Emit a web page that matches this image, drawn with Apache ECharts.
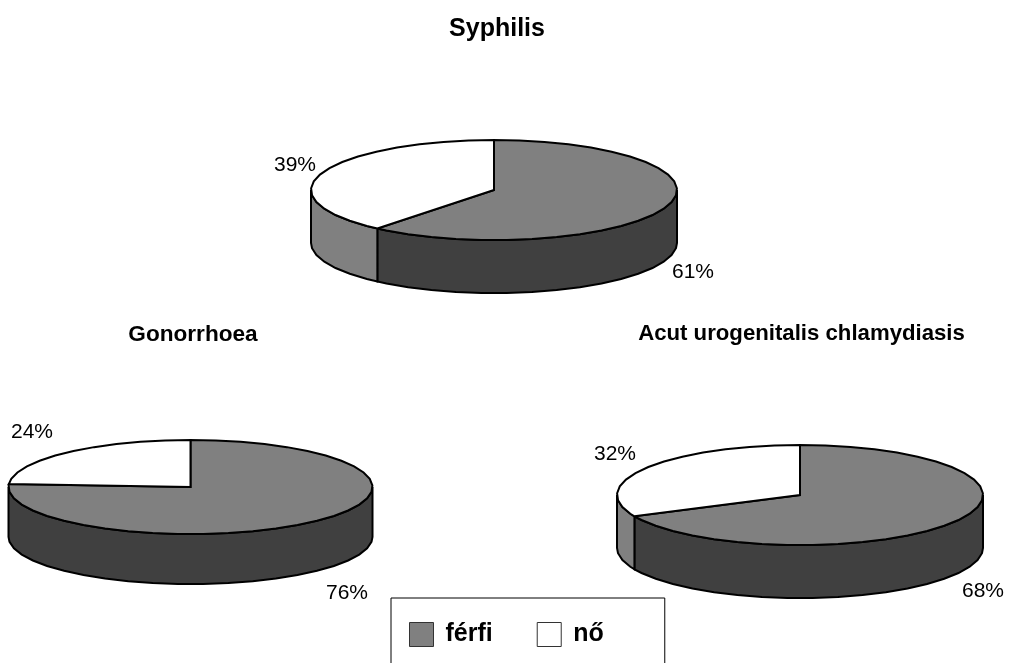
<!DOCTYPE html>
<html>
<head>
<meta charset="utf-8">
<style>
  html, body { margin: 0; padding: 0; background: #fff; }
  #chart { width: 1009px; height: 663px; }
</style>
<script src="https://cdn.jsdelivr.net/npm/echarts@6/dist/echarts.min.js"></script>
</head>
<body>
<div id="chart"></div>
<script>
// values, in percent
var pieNames = ["Syphilis", "Gonorrhoea", "Acut urogenitalis chlamydiasis"];
var ferfi = [61, 76, 68];
var no = [39, 24, 32];

// where each fake 3d pie sits on the page
var pieCx = [494, 190.5, 800];
var pieCy = [190, 487, 495];
var pieRx = [183, 182, 183];
var pieRy = [50, 47, 50];
var pieDepth = [53, 50, 53];
var titleX = [497, 193, 801.5];
var titleY = [17, 323, 323];
var titleSize = [25, 22.6, 22.2];
var ferfiLabelX = [693, 347, 983];
var ferfiLabelY = [272, 593, 591];
var noLabelX = [295, 32, 615];
var noLabelY = [165, 432, 454];

var STEP = 8; // degrees per outline segment, the original edge is polygonal too
var FONT = '"Liberation Sans", Arial, sans-serif';

// theta is clockwise from 12 o'clock
function rim(i, deg, drop) {
  var t = deg * Math.PI / 180;
  return [
    pieCx[i] + pieRx[i] * Math.sin(t),
    pieCy[i] - pieRy[i] * Math.cos(t) + (drop || 0)
  ];
}

function arcPoints(i, from, to, drop) {
  var pts = [rim(i, from, drop)];
  var a = Math.floor(from / STEP) * STEP + STEP;
  for (; a < to; a += STEP) pts.push(rim(i, a, drop));
  pts.push(rim(i, to, drop));
  return pts;
}

function sliceRenderer(topColor, sideColor, isFirst, labelX, labelY) {
  return function (params, api) {
    var i = params.dataIndex;
    var value = api.value(0);
    var total = ferfi[i] + no[i];
    var start = isFirst ? 0 : ferfi[i] / total * 360;
    var end = start + value / total * 360;
    var children = [];

    // only the front half of the wall can be seen
    var from = Math.max(start, 90);
    var to = Math.min(end, 270);
    if (to > from) {
      var wall = arcPoints(i, from, to, 0)
        .concat(arcPoints(i, from, to, pieDepth[i]).reverse());
      children.push({
        type: "polygon",
        shape: { points: wall },
        style: { fill: sideColor, stroke: "#000", lineWidth: 2 }
      });
    }

    var top = [[pieCx[i], pieCy[i]]].concat(arcPoints(i, start, end, 0));
    children.push({
      type: "polygon",
      shape: { points: top },
      style: { fill: topColor, stroke: "#000", lineWidth: 2 }
    });

    children.push({
      type: "text",
      x: labelX[i],
      y: labelY[i],
      style: {
        text: value + "%",
        fill: "#000",
        font: "21px " + FONT,
        align: "center",
        verticalAlign: "middle"
      }
    });
    return { type: "group", children: children };
  };
}

var titles = [];
pieNames.forEach(function (name, i) {
  titles.push({
    text: name,
    left: titleX[i],
    top: titleY[i],
    textAlign: "center",
    padding: 0,
    textStyle: {
      color: "#000",
      fontFamily: FONT,
      fontWeight: "bold",
      fontSize: titleSize[i]
    }
  });
});

function toData(arr) {
  return arr.map(function (v) { return [v]; });
}

var option = {
  animation: false,
  backgroundColor: "#fff",
  title: titles,
  legend: {
    left: 391,
    top: 598,
    orient: "horizontal",
    padding: [24, 61, 24, 18],
    itemWidth: 24,
    itemHeight: 24,
    itemGap: 44,
    icon: "rect",
    borderColor: "#000",
    borderWidth: 1,
    selectedMode: false,
    textStyle: {
      color: "#000",
      fontFamily: FONT,
      fontWeight: "bold",
      fontSize: 25,
      padding: [3, 0, 0, 7]
    },
    itemStyle: { borderColor: "#333", borderWidth: 1 },
    data: ["férfi", "nő"]
  },
  series: [
    {
      name: "férfi",
      type: "custom",
      coordinateSystem: "none",
      itemStyle: { color: "#808080" },
      renderItem: sliceRenderer("#808080", "#404040", true, ferfiLabelX, ferfiLabelY),
      data: toData(ferfi)
    },
    {
      name: "nő",
      type: "custom",
      coordinateSystem: "none",
      itemStyle: { color: "#ffffff" },
      renderItem: sliceRenderer("#ffffff", "#808080", false, noLabelX, noLabelY),
      data: toData(no)
    }
  ]
};

var myChart = echarts.init(document.getElementById("chart"));
myChart.setOption(option);
</script>
</body>
</html>
